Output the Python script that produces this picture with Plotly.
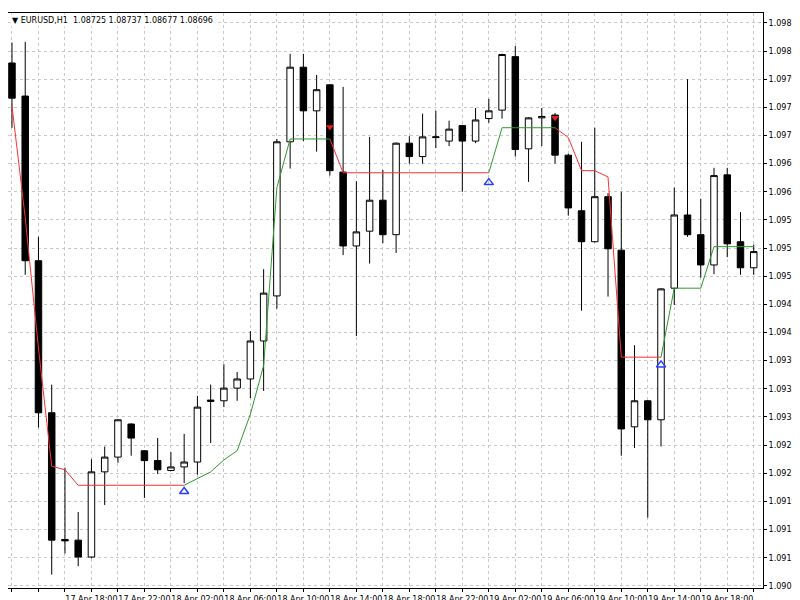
import plotly.graph_objects as go

# Hourly candles, 17 Apr 2023 12:00 -> 19 Apr 2023 20:00
opens = [1.09818,1.09771,1.09537,1.09321,1.09141,1.09140,1.09116,1.09237,1.09258,1.09305,
         1.09267,1.09253,1.09239,1.09244,1.09251,1.09337,1.09338,1.09356,1.09369,1.09423,
         1.09487,1.09706,1.09812,1.09750,1.09787,1.09663,1.09558,1.09579,1.09623,1.09574,
         1.09704,1.09685,1.09712,1.09707,1.09729,1.09707,1.09739,1.09751,1.09827,1.09696,
         1.09740,1.09744,1.09687,1.09608,1.09564,1.09628,1.09552,1.09301,1.09338,1.09311,
         1.09498,1.09602,1.09574,1.09531,1.09659,1.09564,1.09527]
highs = [1.09847,1.09848,1.09571,1.09361,1.09243,1.09180,1.09255,1.09273,1.09312,1.09306,
         1.09268,1.09285,1.09265,1.09291,1.09345,1.09361,1.09390,1.09379,1.09437,1.09525,
         1.09710,1.09831,1.09831,1.09801,1.09788,1.09784,1.09650,1.09713,1.09666,1.09705,
         1.09714,1.09746,1.09750,1.09736,1.09730,1.09754,1.09767,1.09831,1.09842,1.09741,
         1.09754,1.09747,1.09689,1.09706,1.09726,1.09633,1.09635,1.09417,1.09339,1.09498,
         1.09641,1.09795,1.09625,1.09669,1.09669,1.09606,1.09560]
lows = [1.09726,1.09517,1.09300,1.09091,1.09121,1.09103,1.09114,1.09190,1.09250,1.09260,
        1.09200,1.09234,1.09238,1.09221,1.09233,1.09278,1.09329,1.09338,1.09342,1.09352,
        1.09469,1.09668,1.09707,1.09692,1.09658,1.09545,1.09430,1.09533,1.09562,1.09548,
        1.09675,1.09675,1.09697,1.09700,1.09635,1.09704,1.09733,1.09739,1.09685,1.09649,
        1.09700,1.09675,1.09601,1.09466,1.09563,1.09486,1.09260,1.09271,1.09172,1.09273,
        1.09474,1.09571,1.09513,1.09518,1.09542,1.09517,1.09517]
closes = [1.09768,1.09537,1.09321,1.09140,1.09139,1.09116,1.09237,1.09258,1.09311,1.09285,
          1.09253,1.09240,1.09244,1.09251,1.09329,1.09339,1.09356,1.09369,1.09423,1.09491,
          1.09706,1.09812,1.09750,1.09780,1.09665,1.09558,1.09578,1.09623,1.09574,1.09704,
          1.09685,1.09713,1.09713,1.09724,1.09707,1.09737,1.09750,1.09830,1.09695,1.09740,
          1.09742,1.09687,1.09612,1.09564,1.09628,1.09554,1.09298,1.09338,1.09311,1.09497,
          1.09602,1.09574,1.09531,1.09658,1.09561,1.09527,1.09550]

# trailing indicator line and its trend per bar
line = [1.09757,1.09598,1.09413,1.09245,1.09240] + [1.09218]*9 + \
       [1.09227,1.09237,1.09254,1.09267,1.09319,1.09388,1.09641] + [1.09710]*4 + \
       [1.09662]*12 + [1.09726]*5 + [1.09712,1.09665,1.09665,1.09656] + \
       [1.09400]*4 + [1.09498]*3 + [1.09557]*4
trend = ["dn"]*14 + ["up"]*11 + ["dn"]*12 + ["up"]*5 + ["dn"]*8 + ["up"]*7

buy_idx = [13, 36, 49]
buy_price = [1.09209, 1.09648, 1.09389]
sell_idx = [24, 41]
sell_price = [1.09727, 1.09740]

tick_pos = [0, 6, 10, 14, 18, 22, 26, 30, 34, 38, 42, 46, 50, 54]
tick_labels = ["17 Apr 2023", "17 Apr 18:00", "17 Apr 22:00", "18 Apr 02:00", "18 Apr 06:00",
               "18 Apr 10:00", "18 Apr 14:00", "18 Apr 18:00", "18 Apr 22:00", "19 Apr 02:00",
               "19 Apr 06:00", "19 Apr 10:00", "19 Apr 14:00", "19 Apr 18:00"]
price_ticks = [1.09875,1.09835,1.09795,1.09755,1.09715,1.09675,1.09635,1.09595,1.09555,1.09515,
               1.09475,1.09435,1.09395,1.09355,1.09315,1.09275,1.09235,1.09195,1.09155,1.09115]
price_labels = ["1.09875","1.09835","1.09795","1.09755","1.09715","1.09675","1.09635","1.09595",
                "1.09555","1.09515","1.09475","1.09435","1.09395","1.09355","1.09315","1.09275",
                "1.09235","1.09195","1.09155","1.09115"]

n = len(opens)
x = list(range(n))
red_y, green_y = [], []
for i in range(n):
    nxt = trend[i+1] if i+1 < n else None
    red_y.append(line[i] if trend[i] == "dn" or nxt == "dn" else None)
    green_y.append(line[i] if trend[i] == "up" or nxt == "up" else None)

fig = go.Figure()
fig.add_trace(go.Candlestick(x=x, open=opens, high=highs, low=lows, close=closes,
    increasing=dict(fillcolor="white", line=dict(color="black", width=1)),
    decreasing=dict(fillcolor="black", line=dict(color="black", width=1)),
    whiskerwidth=0, showlegend=False))
fig.add_trace(go.Scatter(x=x, y=red_y, mode="lines", line=dict(color="#ff3030", width=1),
                         connectgaps=False, showlegend=False))
fig.add_trace(go.Scatter(x=x, y=green_y, mode="lines", line=dict(color="#2e9a2e", width=1),
                         connectgaps=False, showlegend=False))
fig.add_trace(go.Scatter(x=buy_idx, y=buy_price, mode="markers",
    marker=dict(symbol="triangle-up-open", size=8, color="#2a3cff", line=dict(width=1.5)),
    showlegend=False))
fig.add_trace(go.Scatter(x=sell_idx, y=sell_price, mode="markers",
    marker=dict(symbol="triangle-down", size=7, color="#e02020"), showlegend=False))

grid_vals = list(range(0, 58, 2))
grid_text = [tick_labels[tick_pos.index(v)] if v in tick_pos else "" for v in grid_vals]

fig.update_layout(
    width=800, height=600, margin=dict(l=0, r=45, t=5, b=20, autoexpand=False),
    paper_bgcolor="white", plot_bgcolor="white",
    font=dict(family="DejaVu Sans", size=8, color="black"),
    xaxis=dict(range=[-0.3, 56.7], rangeslider=dict(visible=False), automargin=False,
               tickmode="array", tickvals=grid_vals, ticktext=grid_text, tickangle=0,
               showgrid=True, gridcolor="#c8c8c8", griddash="3px,3px", gridwidth=1,
               ticks="outside", ticklen=3, tickcolor="black",
               showline=True, linecolor="black", mirror=True, zeroline=False),
    yaxis=dict(range=[1.09072, 1.09889], side="right", automargin=False,
               tickmode="array", tickvals=price_ticks + [1.09075],
               ticktext=price_labels + ["1.09075"],
               showgrid=True, gridcolor="#c8c8c8", griddash="3px,3px", gridwidth=1,
               ticks="outside", ticklen=3, tickcolor="black",
               showline=True, linecolor="black", mirror=True, zeroline=False),
    annotations=[
        dict(text="▼ EURUSD,H1  1.08725 1.08737 1.08677 1.08696", xref="paper", yref="paper",
             x=0.003, y=0.998, xanchor="left", yanchor="top", showarrow=False,
             bgcolor="white", font=dict(size=8)),
        dict(text="19 Apr 22:00", xref="x", yref="paper", x=58, y=0, yanchor="top",
             yshift=-3, showarrow=False, font=dict(size=8)),
    ],
)
fig.write_html("out.html")
